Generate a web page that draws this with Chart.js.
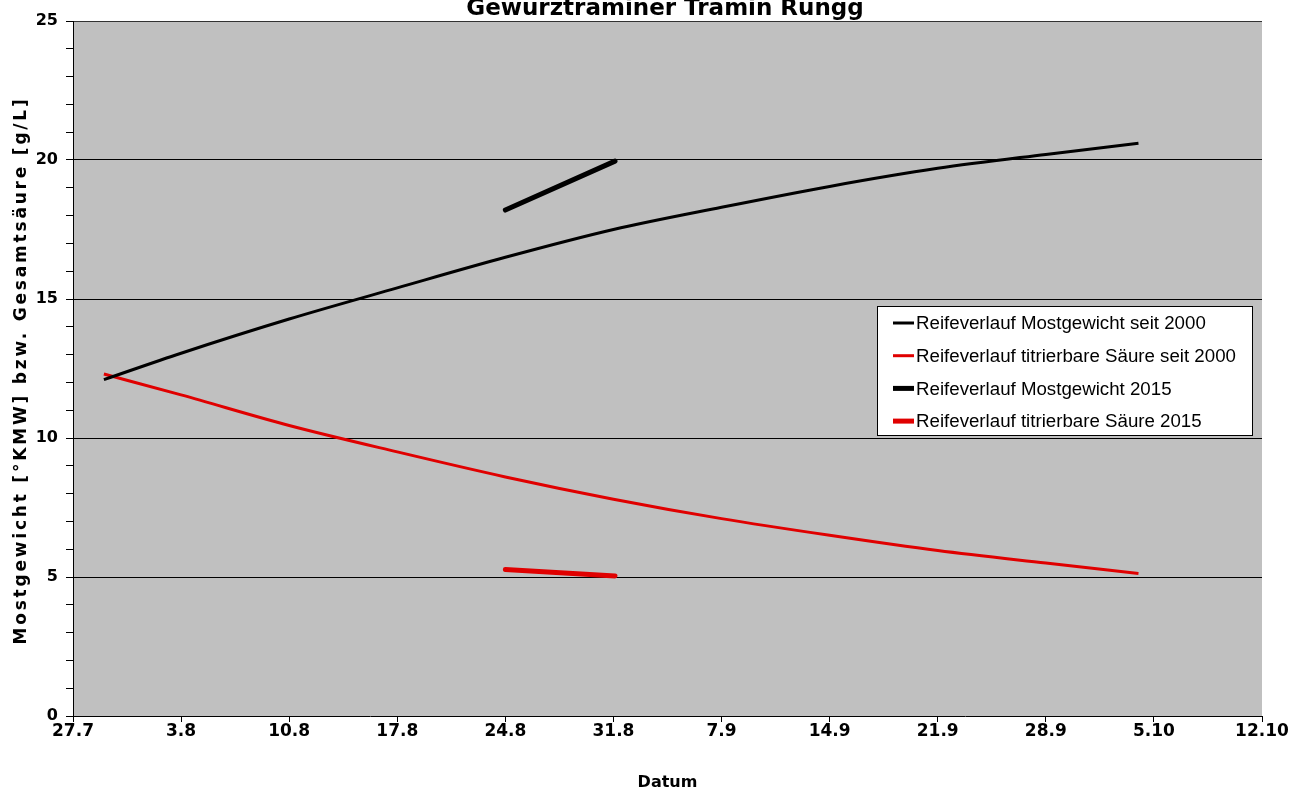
<!DOCTYPE html>
<html>
<head>
<meta charset="utf-8">
<script src="https://cdn.jsdelivr.net/npm/chart.js@4.4.1/dist/chart.umd.min.js"></script>
<style>
html, body { margin: 0; padding: 0; background: #fff; }
</style>
</head>
<body>
<canvas id="reife" width="1304" height="794"></canvas>
<script>
// Datum-Achse: Tage ab 27.7., Beschriftung jede Woche
var dateLabels = ['27.7', '3.8', '10.8', '17.8', '24.8', '31.8', '7.9', '14.9', '21.9', '28.9', '5.10', '12.10'];

// Reifeverlauf seit 2000 (Mittel)
var tageSeit2000 = [2, 7, 14, 21, 28, 35, 42, 49, 56, 63, 69];
var mostSeit2000 = [12.1, 13.05, 14.28, 15.4, 16.5, 17.5, 18.3, 19.05, 19.7, 20.2, 20.6];
var saeureSeit2000 = [12.3, 11.55, 10.45, 9.5, 8.6, 7.8, 7.1, 6.5, 5.95, 5.5, 5.13];

// Reifeverlauf 2015
var tage2015 = [28, 35.1];
var most2015 = [18.2, 19.96];
var saeure2015 = [5.27, 5.04];

var rot = '#e00000';

function punkte(xs, ys) {
	return xs.map(function(x, i){ return {x: x, y: ys[i]}; });
}

// grauer Hintergrund im Diagrammbereich
var hintergrund = {
	id: 'hintergrund',
	beforeDraw: function(chart){
		var a = chart.chartArea, ctx = chart.ctx;
		ctx.save();
		ctx.fillStyle = '#c0c0c0';
		ctx.fillRect(a.left, a.top, a.right - a.left, a.bottom - a.top);
		ctx.restore();
	}
};

// Titel, Y-Titel mit Sperrung + Legende im Diagramm
var extras = {
	id: 'extras',
	afterDraw: function(chart){
		var a = chart.chartArea, ctx = chart.ctx;
		ctx.save();
		ctx.font = 'bold 23px "DejaVu Sans"';
		ctx.fillStyle = '#000';
		ctx.textAlign = 'center';
		ctx.textBaseline = 'alphabetic';
		ctx.fillText('Gewürztraminer Tramin Rungg', 665, 15);
		ctx.restore();

		ctx.save();
		ctx.translate(22, (a.top + a.bottom) / 2 + 2);
		ctx.rotate(-Math.PI / 2);
		ctx.font = 'bold 17px "DejaVu Sans"';
		ctx.letterSpacing = '2.8px';
		ctx.fillStyle = '#000';
		ctx.textAlign = 'center';
		ctx.textBaseline = 'middle';
		ctx.fillText('Mostgewicht [°KMW] bzw. Gesamtsäure [g/L]', 0, 0);
		ctx.restore();

		//legende
		var box = {x: 877, y: 306, w: 375, h: 129};
		ctx.save();
		ctx.fillStyle = '#fff';
		ctx.fillRect(box.x, box.y, box.w, box.h);
		ctx.strokeStyle = '#000';
		ctx.lineWidth = 1;
		ctx.strokeRect(box.x + 0.5, box.y + 0.5, box.w, box.h);
		ctx.font = '18.7px "Liberation Sans"';
		ctx.textBaseline = 'middle';
		chart.data.datasets.forEach(function(ds, i){
			var y = box.y + 17 + i * 32.7;
			ctx.beginPath();
			ctx.strokeStyle = ds.borderColor;
			ctx.lineWidth = ds.borderWidth;
			ctx.moveTo(box.x + 16, y);
			ctx.lineTo(box.x + 37, y);
			ctx.stroke();
			ctx.fillStyle = '#000';
			ctx.fillText(ds.label, box.x + 39, y + 1);
		});
		ctx.restore();
	}
};

var ctx = document.querySelector('#reife');
var myChart = new Chart(ctx, {
	type: 'line',
	data: {
		datasets: [{
			label: 'Reifeverlauf Mostgewicht seit 2000',
			data: punkte(tageSeit2000, mostSeit2000),
			borderColor: '#000',
			borderWidth: 3,
			cubicInterpolationMode: 'monotone'
		}, {
			label: 'Reifeverlauf titrierbare Säure seit 2000',
			data: punkte(tageSeit2000, saeureSeit2000),
			borderColor: rot,
			borderWidth: 3,
			cubicInterpolationMode: 'monotone'
		}, {
			label: 'Reifeverlauf Mostgewicht 2015',
			data: punkte(tage2015, most2015),
			borderColor: '#000',
			borderWidth: 5,
			borderCapStyle: 'round'
		}, {
			label: 'Reifeverlauf titrierbare Säure 2015',
			data: punkte(tage2015, saeure2015),
			borderColor: rot,
			borderWidth: 5,
			borderCapStyle: 'round'
		}]
	},
	options: {
		responsive: false,
		animation: false,
		devicePixelRatio: 1,
		elements: { point: { radius: 0 } },
		layout: { padding: { left: 0, right: 42, top: 21, bottom: 0 } },
		plugins: {
			legend: { display: false },
			tooltip: { enabled: false },
			title: { display: false }
		},
		scales: {
			x: {
				type: 'linear',
				min: 0,
				max: 77,
				afterFit: function(s){ s.height = 78; },
				ticks: {
					stepSize: 7,
					autoSkip: false,
					maxRotation: 0,
					color: '#000',
					font: {family: '"DejaVu Sans"', size: 17, weight: 'bold'},
					padding: -1,
					callback: function(v){ return dateLabels[Math.round(v / 7)]; }
				},
				grid: { drawOnChartArea: false, tickLength: 6, tickColor: '#000' },
				border: { color: '#000', width: 1 },
				title: {
					display: true,
					text: 'Datum',
					color: '#000',
					font: {family: '"DejaVu Sans"', size: 16, weight: 'bold'},
					padding: { top: 0, bottom: 2 }
				}
			},
			y: {
				min: 0,
				max: 25,
				afterFit: function(s){ s.width = 73; },
				ticks: {
					stepSize: 1,
					autoSkip: false,
					color: '#000',
					font: {family: '"DejaVu Sans"', size: 16, weight: 'bold'},
					padding: 8,
					callback: function(v){ return v % 5 === 0 ? v : ''; }
				},
				grid: {
					tickLength: 7,
					tickColor: '#000',
					color: function(c){
						if (!c.tick || c.tick.value === 0 || c.tick.value % 5 !== 0) return 'rgba(0,0,0,0)';
						return c.tick.value === 25 ? '#333' : '#000';
					}
				},
				border: { color: '#000', width: 1 }
			}
		}
	},
	plugins: [hintergrund, extras]
});
</script>
</body>
</html>
